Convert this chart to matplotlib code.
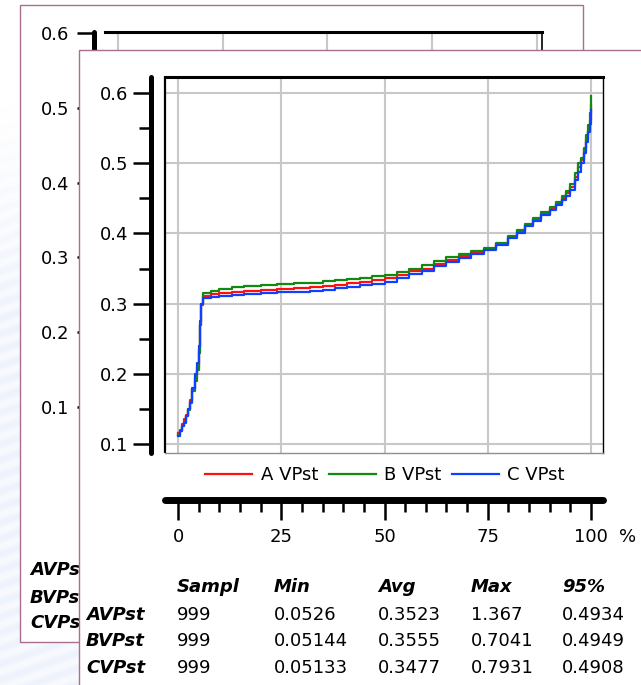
import numpy as np
import matplotlib
matplotlib.use('Agg')
import matplotlib.pyplot as plt
from matplotlib.patches import Rectangle
from matplotlib.ticker import MultipleLocator

plt.rcParams['font.family'] = ['DejaVu Sans']

# --- data ----------------------------------------------------------------
pct = [0, 0.5, 1, 1.5, 2, 2.5, 3, 3.5, 4, 4.5, 5, 5.3, 5.6, 6, 8, 10, 13, 16,
       20, 24, 28, 32, 35, 38, 41, 44, 47, 50, 53, 56, 59, 62, 65, 68, 71, 74,
       77, 80, 82, 84, 86, 88, 90, 91.5, 93, 94, 95, 96, 96.8, 97.5, 98.2, 98.8,
       99.3, 99.7, 100]
a_vpst = [0.115, 0.120, 0.128, 0.135, 0.142, 0.150, 0.162, 0.178, 0.195, 0.210,
          0.235, 0.270, 0.298, 0.311, 0.313, 0.315, 0.316, 0.318,
          0.319, 0.321, 0.322, 0.323, 0.325, 0.327, 0.329, 0.331, 0.334, 0.337,
          0.341, 0.346, 0.350, 0.356, 0.362, 0.368, 0.373, 0.378,
          0.385, 0.395, 0.403, 0.412, 0.420, 0.428, 0.436, 0.442, 0.450, 0.457,
          0.466, 0.480, 0.494, 0.505, 0.520, 0.535, 0.548, 0.562, 0.583]
b_vpst = [0.113, 0.118, 0.125, 0.132, 0.140, 0.148, 0.158, 0.175, 0.190, 0.205,
          0.230, 0.270, 0.300, 0.315, 0.318, 0.321, 0.323, 0.325,
          0.327, 0.328, 0.329, 0.330, 0.332, 0.333, 0.335, 0.337, 0.339, 0.341,
          0.345, 0.350, 0.355, 0.361, 0.366, 0.371, 0.375, 0.379,
          0.387, 0.397, 0.405, 0.414, 0.422, 0.430, 0.438, 0.445, 0.453, 0.461,
          0.470, 0.486, 0.500, 0.508, 0.522, 0.540, 0.555, 0.572, 0.596]
c_vpst = [0.112, 0.118, 0.125, 0.130, 0.140, 0.150, 0.160, 0.180, 0.200, 0.215,
          0.240, 0.275, 0.300, 0.308, 0.309, 0.311, 0.312, 0.314,
          0.315, 0.316, 0.317, 0.318, 0.320, 0.322, 0.324, 0.326, 0.328, 0.331,
          0.336, 0.342, 0.347, 0.353, 0.359, 0.365, 0.371, 0.376,
          0.383, 0.393, 0.401, 0.410, 0.418, 0.426, 0.433, 0.440, 0.447, 0.453,
          0.462, 0.476, 0.488, 0.500, 0.515, 0.530, 0.545, 0.556, 0.576]
series_names = ['A VPst', 'B VPst', 'C VPst']
series_colors = ['#ff1010', '#108a10', '#1040ff']

x_ticks = [0, 25, 50, 75, 100]
y_ticks = [0.1, 0.2, 0.3, 0.4, 0.5, 0.6]
y_labels = ['0.1', '0.2', '0.3', '0.4', '0.5', '0.6']

stat_cols = ['Sampl', 'Min', 'Avg', 'Max', '95%']
row_names = ['AVPst', 'BVPst', 'CVPst']
stats = [['999', '0.0526', '0.3523', '1.367', '0.4934'],
         ['999', '0.05144', '0.3555', '0.7041', '0.4949'],
         ['999', '0.05133', '0.3477', '0.7931', '0.4908']]

# --- layout helpers (pixel -> figure fraction) ----------------------------
W, H = 641, 685
PINK = '#a8708e'
GRID = '#c8c8c8'
FS = 13


def rect(x0, y0, x1, y1):
    return [x0 / W, 1 - y1 / H, (x1 - x0) / W, (y1 - y0) / H]


def fx(x):
    return x / W


def fy(y):
    return 1 - y / H


fig = plt.figure(figsize=(W / 100, H / 100), dpi=100, facecolor='white')

# faint blue backdrop texture at the left
bg = fig.add_axes([0, 0, 1, 1], zorder=0)
yy, xx = np.mgrid[0:H, 0:W]
alpha = 0.28 * np.clip((yy - 100) / 220.0, 0, 1) * (0.7 + 0.3 * np.sin((yy + 0.35 * xx) / 2.5))
img = np.zeros((H, W, 4))
img[..., 0] = 0.76
img[..., 1] = 0.82
img[..., 2] = 0.96
img[..., 3] = alpha
bg.imshow(img, extent=[0, W, H, 0], aspect='auto')
bg.axis('off')

# --- back panel ------------------------------------------------------------
fig.add_artist(Rectangle((fx(20), fy(642)), (583 - 20) / W, (642 - 5) / H,
                         transform=fig.transFigure, facecolor='white',
                         edgecolor=PINK, lw=1, zorder=0.5))
back = fig.add_axes(rect(105, 32, 542, 430), zorder=1)
back.set_xlim(-3.1, 101.2)
back.set_ylim(0.0693, 0.6013)
back.set_xticks(x_ticks)
back.set_yticks(y_ticks)
back.set_yticklabels(y_labels)
back.grid(True, color=GRID, lw=1.5)
back.tick_params(axis='x', length=0, labelbottom=False)
back.tick_params(axis='y', length=12.5, width=1.8, pad=5, labelsize=FS)
back.spines['left'].set_position(('outward', 8))
back.spines['left'].set_linewidth(3.6)
back.spines['left'].set_capstyle('round')
back.spines['top'].set_linewidth(2.2)
back.spines['right'].set_linewidth(1.2)
for i, name in enumerate(row_names):
    fig.text(fx(30), fy([570, 598, 623][i]), name, fontsize=FS, fontweight='bold',
             style='italic', va='center', ha='left', zorder=1.5)

# --- front panel -----------------------------------------------------------
fig.add_artist(Rectangle((fx(79), fy(720)), 1, (720 - 50) / H,
                         transform=fig.transFigure, facecolor='white',
                         edgecolor=PINK, lw=1, zorder=2))

ax = fig.add_axes(rect(165, 77, 603, 453), zorder=3)
series = [a_vpst, b_vpst, c_vpst]
for vals, name, col in zip(series, series_names, series_colors):
    ax.plot(pct, vals, drawstyle='steps-post', color=col, lw=1.6, label=name)
ax.set_xlim(-3.15, 102.9)
ax.set_ylim(0.0872, 0.6228)
ax.set_xticks(x_ticks)
ax.set_yticks(y_ticks)
ax.set_yticklabels(y_labels)
ax.yaxis.set_minor_locator(MultipleLocator(0.05))
ax.grid(True, color=GRID, lw=1.5)
ax.set_axisbelow(True)
ax.tick_params(axis='x', length=0, labelbottom=False)
ax.tick_params(axis='y', which='major', length=13, width=1.8, pad=3.5, labelsize=FS)
ax.tick_params(axis='y', which='minor', length=8.5, width=1.8)
ax.spines['left'].set_position(('outward', 10))
ax.spines['left'].set_linewidth(3.6)
ax.spines['left'].set_capstyle('round')
ax.spines['top'].set_linewidth(2.2)
ax.spines['right'].set_linewidth(1.0)
ax.spines['bottom'].set_color('#909090')
ax.spines['bottom'].set_linewidth(1.0)
ax.plot([0, 0], [0, 1], transform=ax.transAxes, color='black', lw=1.6,
        clip_on=False, solid_capstyle='butt')

leg = fig.legend(loc='center', bbox_to_anchor=(fx(385), fy(475)), ncol=3,
                 frameon=False, fontsize=FS, handlelength=2.6,
                 handletextpad=0.45, columnspacing=0.6)
leg.set_zorder(5)

# separate percentile axis underneath
xa = fig.add_axes(rect(165, 480, 603, 500), zorder=3)
xa.patch.set_visible(False)
xa.set_xlim(-3.15, 102.9)
xa.set_xticks(x_ticks)
xa.set_xticklabels([str(t) for t in x_ticks])
xa.xaxis.set_minor_locator(MultipleLocator(5))
xa.set_yticks([])
for s in ['top', 'left', 'right']:
    xa.spines[s].set_visible(False)
xa.spines['bottom'].set_linewidth(5)
xa.spines['bottom'].set_capstyle('round')
xa.tick_params(axis='x', which='major', length=14.5, width=1.8, pad=6, labelsize=FS)
xa.tick_params(axis='x', which='minor', length=8.5, width=1.8)
fig.text(fx(628), fy(537), '%', fontsize=FS, ha='center', va='center', zorder=5)

# stats table
col_x = [177, 274, 378, 471, 562]
row_y = [615, 641, 668]
for cx, head in zip(col_x, stat_cols):
    fig.text(fx(cx), fy(587), head, fontsize=FS, fontweight='bold', style='italic',
             ha='left', va='center', zorder=5)
for ry, name, vals in zip(row_y, row_names, stats):
    fig.text(fx(86), fy(ry), name, fontsize=FS, fontweight='bold', style='italic',
             ha='left', va='center', zorder=5)
    for cx, v in zip(col_x, vals):
        fig.text(fx(cx), fy(ry), v, fontsize=FS, ha='left', va='center', zorder=5)

fig.savefig('out.png', dpi=100, facecolor='white')
